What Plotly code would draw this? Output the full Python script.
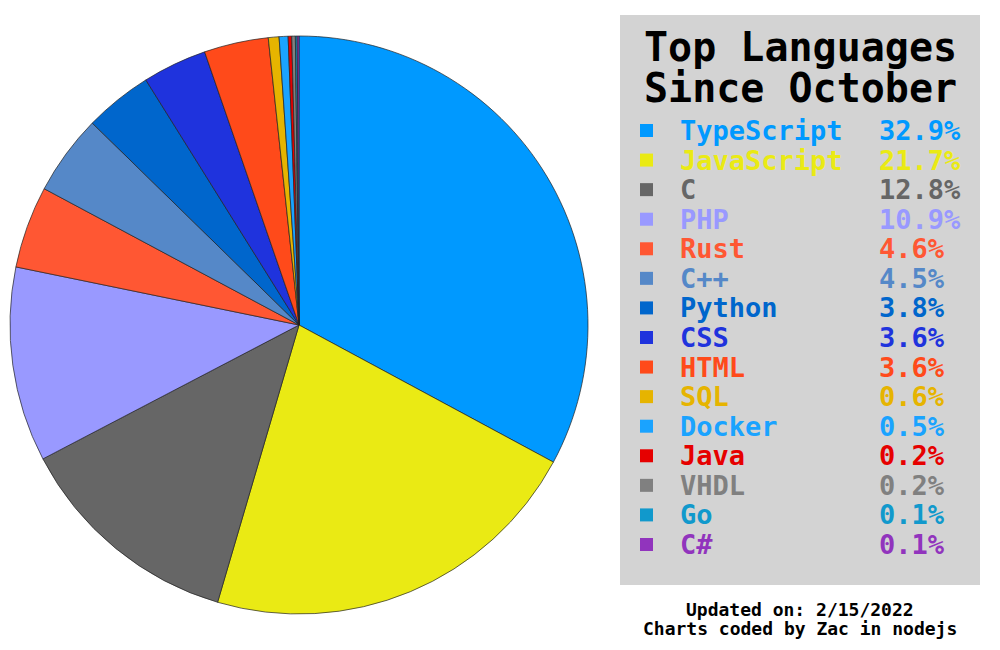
import plotly.graph_objects as go

languages = ["TypeScript", "JavaScript", "C", "PHP", "Rust", "C++", "Python", "CSS",
             "HTML", "SQL", "Docker", "Java", "VHDL", "Go", "C#"]
percents = [32.9, 21.7, 12.8, 10.9, 4.6, 4.5, 3.8, 3.6, 3.6, 0.6, 0.5, 0.2, 0.2, 0.1, 0.1]
colors = ["#0099FF", "#EAEA14", "#666666", "#9999FF", "#FF5733", "#5588C8", "#0066CC",
          "#1F33DD", "#FF4A1A", "#E6B400", "#1AA3FF", "#E60000", "#808080", "#1199CC", "#9134BD"]

title_lines = ["Top Languages", "Since October"]
footer_lines = ["Updated on: 2/15/2022", "Charts coded by Zac in nodejs"]

W, H = 1000, 650
FONT = "DejaVu Sans Mono"

def px(x):
    return x / W

def py(y):
    return 1 - y / H

fig = go.Figure()
fig.add_trace(go.Pie(
    labels=languages,
    values=percents,
    marker=dict(colors=colors, line=dict(color="#222222", width=0.7)),
    sort=False,
    direction="clockwise",
    rotation=0,
    textinfo="none",
    hoverinfo="label+percent",
    showlegend=False,
    domain=dict(x=[px(10), px(588)], y=[py(614), py(36)]),
))

shapes = [dict(type="rect", xref="paper", yref="paper",
               x0=px(620), x1=px(980), y0=py(585), y1=py(15),
               fillcolor="#D3D3D3", line=dict(width=0), layer="below")]
annotations = []

for i, line in enumerate(title_lines):
    annotations.append(dict(
        x=px(800), y=py(47 + i * 41), xref="paper", yref="paper",
        text=line, showarrow=False, xanchor="center", yanchor="middle",
        font=dict(family=FONT, size=40, color="black", weight="bold")))

row0, step = 130.5, 29.57
for i, (name, pct, col) in enumerate(zip(languages, percents, colors)):
    yc = row0 + i * step
    shapes.append(dict(type="rect", xref="paper", yref="paper",
                       x0=px(640), x1=px(653), y0=py(yc + 6.5), y1=py(yc - 6.5),
                       fillcolor=col, line=dict(width=0)))
    annotations.append(dict(
        x=px(678), y=py(yc), xref="paper", yref="paper",
        text=name, showarrow=False, xanchor="left", yanchor="middle",
        font=dict(family=FONT, size=27, color=col, weight="bold")))
    annotations.append(dict(
        x=px(877), y=py(yc), xref="paper", yref="paper",
        text=f"{pct:.1f}%", showarrow=False, xanchor="left", yanchor="middle",
        font=dict(family=FONT, size=27, color=col, weight="bold")))

for i, line in enumerate(footer_lines):
    annotations.append(dict(
        x=px(800), y=py(609 + i * 19), xref="paper", yref="paper",
        text=line, showarrow=False, xanchor="center", yanchor="middle",
        font=dict(family=FONT, size=18, color="black", weight="bold")))

fig.update_layout(
    width=W, height=H,
    margin=dict(l=0, r=0, t=0, b=0),
    paper_bgcolor="white", plot_bgcolor="white",
    shapes=shapes, annotations=annotations,
)

fig.write_html("out.html", config={"displayModeBar": False},
               post_script="document.body.style.margin='0';document.body.style.overflow='hidden';")
